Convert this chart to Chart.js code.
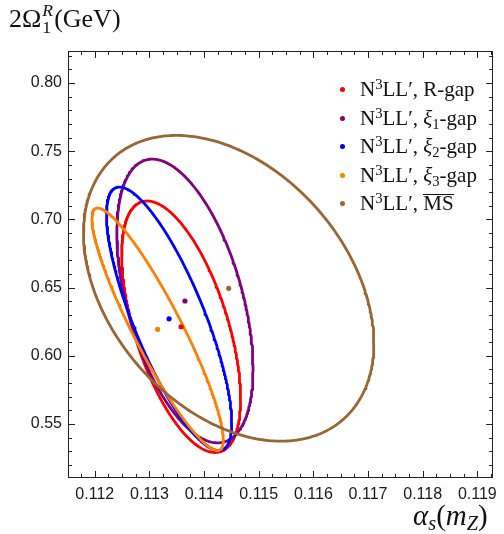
<!DOCTYPE html>
<html>
<head>
<meta charset="utf-8">
<script src="https://cdn.jsdelivr.net/npm/chart.js@4.4.0/dist/chart.umd.min.js"></script>
<style>
html, body { margin: 0; padding: 0; background: #fff; }
#wrap { position: relative; width: 504px; height: 534px; }
#myChart { position: absolute; left: 0; top: 0; }
.lbl { position: absolute; font-family: "Liberation Serif", serif; color: #111; white-space: nowrap; }
.ss { display: inline-block; vertical-align: -0.32em; font-size: 0.68em; line-height: 0.95; margin-left: 1px; margin-right: 1px; }
.ss span { display: block; }
.sub { font-size: 0.7em; vertical-align: -0.25em; }
.sup { font-size: 0.7em; vertical-align: 0.5em; }
.leg { position: absolute; left: 340px; height: 24px; line-height: 24px; font-family: "Liberation Serif", serif; font-size: 21px; color: #111; white-space: nowrap; }
.leg .dot { display: inline-block; width: 5px; height: 5px; border-radius: 50%; margin-right: 15px; vertical-align: 4px; }
.ov { display: inline-block; border-top: 1.2px solid #111; line-height: 0.84; padding-top: 0; }
</style>
</head>
<body>
<div id="wrap">
  <canvas id="myChart" width="504" height="534"></canvas>
  <div class="lbl" style="left:9px;top:2px;font-size:26px;">2Ω<span class="ss"><span><i>R</i></span><span>1</span></span>(GeV)</div>
  <div class="lbl" style="left:413px;top:499px;font-size:29px;"><i>α<span class="sub">s</span></i>(<i>m<span class="sub">Z</span></i>)</div>
  <div id="legend"></div>
</div>
<script>
// fits shown in the plot
var fitNames = ['N<span class="sup">3</span>LL′, R-gap',
                'N<span class="sup">3</span>LL′, <i>ξ</i><span class="sub">1</span>-gap',
                'N<span class="sup">3</span>LL′, <i>ξ</i><span class="sub">2</span>-gap',
                'N<span class="sup">3</span>LL′, <i>ξ</i><span class="sub">3</span>-gap',
                'N<span class="sup">3</span>LL′, <span class="ov">MS</span>'];
var colors = ['rgb(255,0,0)', 'rgb(128,0,128)', 'rgb(0,0,255)', 'rgb(255,128,0)', 'rgb(153,102,51)'];

// central values
var alphaCentral = [0.11358, 0.11365, 0.11336, 0.11315, 0.11445];
var omegaCentral = [0.6213, 0.6402, 0.6271, 0.6194, 0.6495];
// ellipse half extents and correlation
var alphaHalf = [0.001088, 0.001246, 0.001146, 0.001202, 0.002657];
var omegaHalf = [0.0922, 0.1040, 0.0966, 0.0889, 0.1121];
var correlation = [-0.57, -0.48, -0.79, -0.91, -0.36];

var xTicks = [0.112, 0.113, 0.114, 0.115, 0.116, 0.117, 0.118, 0.119];
var yTicks = [0.55, 0.60, 0.65, 0.70, 0.75, 0.80];
var xMin = 0.11151, xMax = 0.11929, yMin = 0.5104, yMax = 0.8235;

function ellipse(i){
    var pts = [];
    var r = correlation[i], s = Math.sqrt(1 - r*r);
    for (var k = 0; k <= 360; k++){
        var t = 2*Math.PI*k/360;
        pts.push({x: alphaCentral[i] + alphaHalf[i]*Math.cos(t),
                  y: omegaCentral[i] + omegaHalf[i]*(r*Math.cos(t) + s*Math.sin(t))});
    }
    return pts;
}

var datasets = [];
for (var i = 0; i < fitNames.length; i++){
    datasets.push({
        data: ellipse(i),
        showLine: true,
        borderColor: colors[i],
        borderWidth: 2.8,
        borderJoinStyle: 'round',
        pointRadius: 0,
        fill: false,
        order: 10 - i
    });
}
datasets.push({
    data: alphaCentral.map(function(a, i){ return {x: a, y: omegaCentral[i]}; }),
    pointRadius: 2.6,
    pointBackgroundColor: colors,
    pointBorderWidth: 0,
    showLine: false,
    order: 0
});

// frame and inside ticks on all four sides
var frameTicks = {
    id: 'frameTicks',
    afterDraw: function(chart){
        var ctx = chart.ctx, a = chart.chartArea, x = chart.scales.x, y = chart.scales.y;
        ctx.save();
        ctx.strokeStyle = '#222';
        ctx.lineWidth = 1;
        ctx.strokeRect(Math.round(a.left)+0.5, Math.round(a.top)+0.5, Math.round(a.right-a.left)-1, Math.round(a.bottom-a.top)-1);
        ctx.beginPath();
        for (var k = 446; k <= 477; k++){
            var v = k*0.00025;
            if (v < xMin || v > xMax) continue;
            var len = (k % 4 === 0) ? 7 : 4;
            var px = Math.round(x.getPixelForValue(v)) + 0.5;
            ctx.moveTo(px, a.bottom); ctx.lineTo(px, a.bottom - len);
            ctx.moveTo(px, a.top); ctx.lineTo(px, a.top + len);
        }
        for (var m = 51; m <= 82; m++){
            var w = m*0.01;
            if (w < yMin || w > yMax) continue;
            var l2 = (m % 5 === 0) ? 7 : 4;
            var py = Math.round(y.getPixelForValue(w)) + 0.5;
            ctx.moveTo(a.left, py); ctx.lineTo(a.left + l2, py);
            ctx.moveTo(a.right, py); ctx.lineTo(a.right - l2, py);
        }
        ctx.stroke();
        ctx.restore();
    }
};

var ctx = document.getElementById('myChart');
var chart = new Chart(ctx, {
    type: 'scatter',
    data: { datasets: datasets },
    options: {
        responsive: false,
        animation: false,
        devicePixelRatio: 1,
        layout: { padding: { left: 0, right: 7, top: 51, bottom: 0 } },
        plugins: { legend: { display: false }, tooltip: { enabled: false } },
        scales: {
            x: {
                type: 'linear', min: xMin, max: xMax,
                grid: { display: false, drawTicks: false },
                border: { display: false },
                afterBuildTicks: function(s){ s.ticks = xTicks.map(function(v){ return {value: v}; }); },
                afterFit: function(s){ s.height = 56; },
                ticks: {
                    padding: 7, maxRotation: 0, color: '#1a1a1a',
                    font: { family: 'Liberation Sans', size: 16 },
                    callback: function(v){ return v.toFixed(3); }
                }
            },
            y: {
                type: 'linear', min: yMin, max: yMax,
                grid: { display: false, drawTicks: false },
                border: { display: false },
                afterBuildTicks: function(s){ s.ticks = yTicks.map(function(v){ return {value: v}; }); },
                afterFit: function(s){ s.width = 68; },
                ticks: {
                    padding: 6, color: '#1a1a1a',
                    font: { family: 'Liberation Sans', size: 16 },
                    callback: function(v){ return v.toFixed(2); }
                }
            }
        }
    },
    plugins: [frameTicks]
});

// legend
var legendY = [84, 112.5, 141, 169.5, 198];
var lg = document.getElementById('legend');
fitNames.forEach(function(name, i){
    var d = document.createElement('div');
    d.className = 'leg';
    d.style.top = (legendY[i] - 12) + 'px';
    d.innerHTML = '<span class="dot" style="background:' + colors[i] + '"></span>' + name;
    lg.appendChild(d);
});
</script>
</body>
</html>
